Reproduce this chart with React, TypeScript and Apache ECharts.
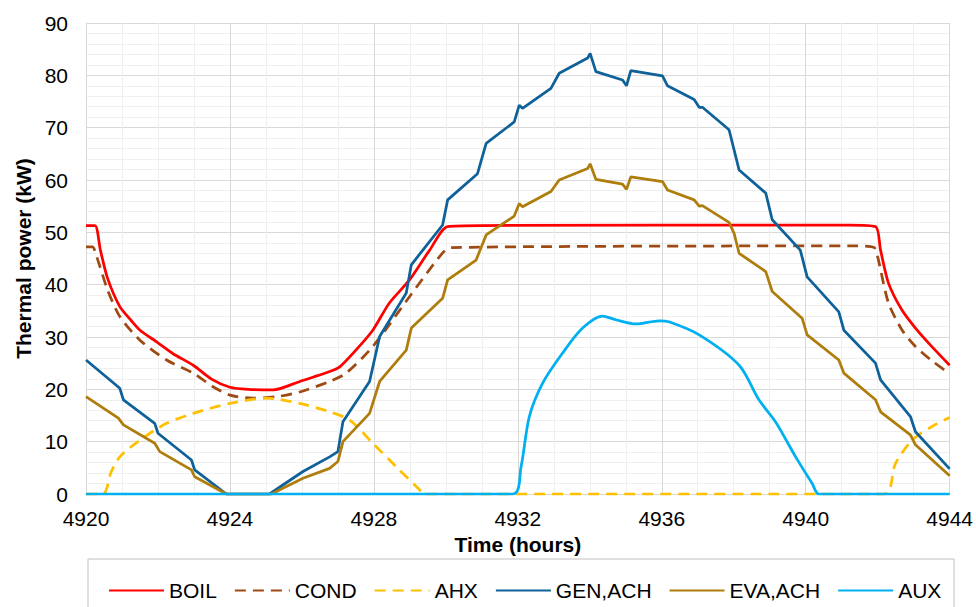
import React, { useEffect, useRef } from "react";
import * as echarts from "echarts";

// ---------- data ----------
const SERIES_NAMES = ["BOIL", "COND", "AHX", "GEN,ACH", "EVA,ACH", "AUX"];
const X_TICKS = [4920, 4924, 4928, 4932, 4936, 4940, 4944];

const boilT = [4920, 4920.25, 4920.4, 4920.6, 4920.94, 4921.25, 4921.5, 4922.0, 4922.42, 4922.98, 4923.5, 4924, 4924.5, 4925.2, 4925.94, 4926.77, 4927.05, 4927.5, 4927.97, 4928.43, 4928.99, 4929.55, 4930.05, 4931, 4941.2, 4941.94, 4942.08, 4942.3, 4942.67, 4943.05, 4943.5, 4944];
const boilV = [51.3, 51.3, 46.6, 41.2, 35.8, 33.2, 31.3, 28.9, 26.8, 24.6, 21.9, 20.4, 20.0, 19.9, 21.5, 23.4, 24.3, 27.5, 31.3, 36.5, 40.9, 46.6, 51.1, 51.3, 51.4, 51.1, 46.6, 40.3, 35.2, 31.7, 28.2, 24.6];

const condT = [4920, 4920.18, 4920.3, 4920.6, 4920.94, 4921.5, 4922.24, 4922.98, 4923.53, 4924, 4924.64, 4925.3, 4925.94, 4926.77, 4927.23, 4927.97, 4928.99, 4929.9, 4930.15, 4941.3, 4941.9, 4942.0, 4942.3, 4942.68, 4943.05, 4943.5, 4944];
const condV = [47.2, 47.2, 45.3, 39.0, 33.9, 29.4, 25.6, 23.1, 20.5, 18.9, 18.3, 18.6, 19.5, 21.5, 23.1, 28.2, 37.7, 46.0, 47.1, 47.4, 47.1, 45.3, 36.5, 31.3, 28.2, 25.5, 23.0];

const ahxT = [4920, 4920.47, 4920.7, 4920.94, 4921.5, 4922.24, 4922.98, 4924, 4925.01, 4925.94, 4926.77, 4927.33, 4927.97, 4928.62, 4929.27, 4929.35, 4942.17, 4942.5, 4942.96, 4943.51, 4944];
const ahxV = [0, 0, 4.2, 7.1, 10.3, 13.5, 15.4, 17.3, 18.3, 17.3, 15.7, 14.1, 9.7, 5.2, 0.8, 0, 0, 5.9, 10.3, 12.9, 14.6];

const genT = [4920, 4920.94, 4921.04, 4921.91, 4922.0, 4922.93, 4923.02, 4923.9, 4925.1, 4926.03, 4926.77, 4927.0, 4927.14, 4927.88, 4928.16, 4928.9, 4929.04, 4929.36, 4929.91, 4930.05, 4930.88, 4931.12, 4931.9, 4932.04, 4932.13, 4932.92, 4933.15, 4933.94, 4934.01, 4934.17, 4934.91, 4935.02, 4935.14, 4936.02, 4936.16, 4936.9, 4937.04, 4937.13, 4937.87, 4938.15, 4938.89, 4939.07, 4939.85, 4940.04, 4940.92, 4941.06, 4941.94, 4942.08, 4942.91, 4943.05, 4944];
const genV = [25.6, 20.2, 18.0, 13.5, 11.6, 6.5, 4.6, 0, 0, 4.3, 7.1, 8.1, 13.8, 21.5, 30.1, 38.4, 43.8, 46.6, 51.4, 56.2, 61.2, 67.0, 71.1, 74.3, 73.7, 77.5, 80.4, 83.3, 84.2, 80.7, 79.1, 78.0, 80.9, 79.9, 78.0, 75.4, 73.9, 73.9, 69.6, 61.9, 57.5, 52.4, 46.6, 41.5, 34.8, 31.3, 25.0, 21.8, 14.8, 11.9, 4.8];

const evaT = [4920, 4920.9, 4921.04, 4921.91, 4922.05, 4922.93, 4923.02, 4923.9, 4925.15, 4926.03, 4926.77, 4927.0, 4927.14, 4927.88, 4928.16, 4928.9, 4929.04, 4929.91, 4930.05, 4930.84, 4931.12, 4931.9, 4932.04, 4932.13, 4932.92, 4933.15, 4933.94, 4934.01, 4934.17, 4934.91, 4935.02, 4935.14, 4936.02, 4936.16, 4936.9, 4937.04, 4937.13, 4937.87, 4938.01, 4938.15, 4938.89, 4939.07, 4939.9, 4940.04, 4940.92, 4941.06, 4941.94, 4942.08, 4942.91, 4943.05, 4944];
const evaV = [18.6, 14.5, 13.2, 9.7, 8.1, 4.6, 3.3, 0, 0, 3.0, 4.9, 6.2, 10.0, 15.4, 21.5, 27.5, 31.7, 37.4, 40.9, 44.7, 49.5, 53.1, 55.5, 54.9, 57.8, 60.0, 62.2, 63.1, 60.1, 59.2, 58.2, 60.6, 59.7, 58.1, 56.2, 55.0, 55.1, 51.9, 49.8, 46.0, 42.5, 38.7, 33.6, 30.4, 25.6, 23.1, 18.0, 15.7, 11.3, 9.4, 3.5];

const auxT = [4920, 4931.86, 4932.09, 4932.32, 4932.69, 4933.24, 4933.8, 4934.35, 4934.72, 4935.28, 4935.93, 4936.2, 4937.04, 4938.15, 4938.7, 4939.16, 4939.72, 4940.18, 4940.37, 4944];
const auxV = [0, 0, 5.2, 14.8, 21.2, 26.9, 31.7, 34.0, 33.3, 32.5, 33.1, 32.9, 30.4, 24.6, 18.0, 13.8, 7.1, 2.0, 0, 0];

const COLORS = ["#ff0000", "#9e4a12", "#ffc000", "#0f6199", "#ae7d0c", "#00b0f0"];

const zip = (t: number[], v: number[]) => t.map((x, i) => [x, v[i]]);

export default function App() {
  const ref = useRef<HTMLDivElement>(null);

  useEffect(() => {
    if (!ref.current) return;
    const chart = echarts.init(ref.current, undefined, { renderer: "svg" });
    const font = "'Liberation Sans', Arial, sans-serif";
    const pairs = [
      zip(boilT, boilV),
      zip(condT, condV),
      zip(ahxT, ahxV),
      zip(genT, genV),
      zip(evaT, evaV),
      zip(auxT, auxV),
    ];
    const smooth = [0.25, 0.25, 0.3, false, false, 0.3];
    const dashed = [false, true, true, false, false, false];

    chart.setOption({
      animation: false,
      textStyle: { fontFamily: font },
      grid: { left: 86, right: 25, top: 23, bottom: 113 },
      xAxis: {
        type: "value",
        min: 4920,
        max: 4944,
        interval: 4,
        name: "Time (hours)",
        nameLocation: "middle",
        nameGap: 40,
        nameTextStyle: { fontSize: 21, fontWeight: "bold", color: "#000", fontFamily: font },
        axisLine: { show: true, lineStyle: { color: "#d9d9d9" } },
        axisTick: { show: false },
        axisLabel: {
          fontSize: 21,
          color: "#000",
          margin: 14,
          fontFamily: font,
          formatter: (v: number) => (X_TICKS.includes(v) ? String(v) : ""),
        },
        splitLine: { show: true, lineStyle: { color: "#d9d9d9", width: 1 } },
        minorTick: { show: false, splitNumber: 4 },
        minorSplitLine: { show: true, lineStyle: { color: "#efefef", width: 1 } },
      },
      yAxis: {
        type: "value",
        min: 0,
        max: 90,
        interval: 10,
        name: "Thermal power (kW)",
        nameLocation: "middle",
        nameGap: 51,
        nameTextStyle: { fontSize: 21, fontWeight: "bold", color: "#000", fontFamily: font },
        axisLine: { show: true, lineStyle: { color: "#d9d9d9" } },
        axisTick: { show: false },
        axisLabel: { fontSize: 21, color: "#000", margin: 18, fontFamily: font },
        splitLine: { show: true, lineStyle: { color: "#d9d9d9", width: 1 } },
        minorTick: { show: false, splitNumber: 5 },
        minorSplitLine: { show: true, lineStyle: { color: "#efefef", width: 1 } },
      },
      legend: {
        data: SERIES_NAMES,
        left: 103,
        top: 575,
        itemWidth: 55,
        itemHeight: 14,
        itemGap: 17,
        itemStyle: { opacity: 0, borderWidth: 0 },
        textStyle: { fontSize: 21, color: "#000", fontFamily: font },
      },
      graphic: [
        {
          type: "rect",
          shape: { x: 88, y: 559, width: 866, height: 70 },
          style: { fill: "none", stroke: "#c0c0c0", lineWidth: 1 },
          silent: true,
        },
      ],
      series: SERIES_NAMES.map((name, i) => ({
        name,
        type: "line",
        data: pairs[i],
        showSymbol: false,
        symbol: "none",
        smooth: smooth[i],
        color: COLORS[i],
        lineStyle: {
          color: COLORS[i],
          width: 2.75,
          type: dashed[i] ? [11, 7] : "solid",
        },
      })),
    });

    return () => chart.dispose();
  }, []);

  return (
    <div
      ref={ref}
      style={{ position: "fixed", left: 0, top: 0, width: 976, height: 607, background: "#fff" }}
    />
  );
}
